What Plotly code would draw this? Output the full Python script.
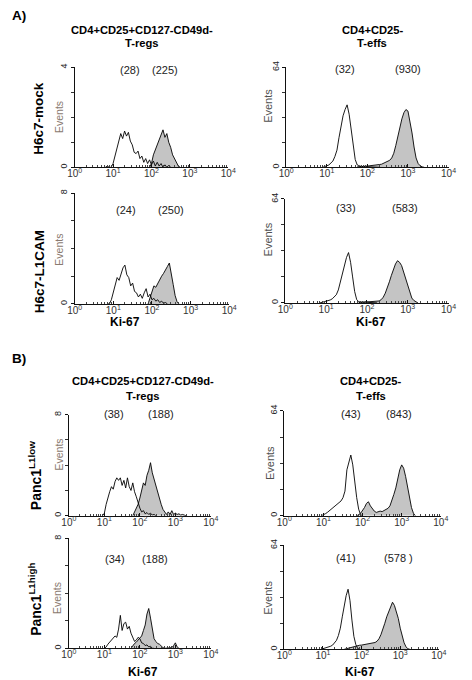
import numpy as np
import plotly.graph_objects as go

W, H = 472, 680
STEP = 0.05  # histogram bin width, log10(Ki-67) units

# ---------------- DATA (counts per log10 bin) ----------------
# Panel A, H6c7-mock, T-regs (y max 4)
a1_open_start = 0.80
a1_open = [0, 0.05, 0, 0, 0.15, 0.45, 0.8, 1.1, 1.35, 1.15, 1.45, 1.25, 1.4, 1.05, 0.9,
           0.6, 0.55, 0.65, 0.35, 0.45, 0.2, 0.35, 0.15, 0.3, 0.1, 0.25, 0.05, 0.2, 0.05,
           0.15, 0, 0.1, 0, 0.08, 0]
a1_fill_start = 1.95
a1_fill = [0, 0.15, 0.5, 0.7, 0.9, 1.1, 1.3, 1.5, 1.2, 1.35, 1.0, 0.8, 0.5, 0.35, 0.15, 0.05, 0]

# Panel A, H6c7-mock, T-effs (y max 64)
a2_open_start = 0.90
a2_open = [0, 0.3, 1, 1.5, 2.5, 4, 7, 11, 19, 27, 33, 37, 40, 34, 24, 12, 5, 1.5, 0.8, 0.5,
           0.5, 0.4, 0.3, 0.3, 0.2, 0.2, 0.1, 0.1, 0]
a2_fill_start = 1.75
a2_fill = [0.3, 0.5, 0.5, 0.6, 0.7, 0.8, 0.9, 1.0, 1.1, 1.3, 1.5, 1.8, 2.0, 2.5, 3, 3.5, 4.5,
           6, 9, 14, 20, 26, 31, 35, 37, 36, 30, 22, 13, 6, 2.5, 1, 0.3, 0]

# Panel A, H6c7-L1CAM, T-regs (y max 8)
a3_open_start = 0.85
a3_open = [0, 0, 0.3, 0.9, 1.5, 1.9, 1.7, 2.2, 2.6, 2.8, 2.1, 1.9, 1.3, 1.5, 0.9, 0.8, 0.5,
           0.7, 0.4, 0.8, 1.1, 0.5, 0.7, 0.3, 0.4, 0.2, 0.3, 0.1, 0.2, 0.05, 0.1, 0]
a3_fill_start = 1.90
a3_fill = [0, 0.5, 1.0, 1.3, 1.2, 1.5, 1.7, 2.0, 2.2, 2.5, 2.7, 2.95, 2.3, 1.4, 0.6, 0.15, 0]

# Panel A, H6c7-L1CAM, T-effs (y max 64)
a4_open_start = 0.85
a4_open = [0, 0.3, 0.5, 0.8, 1.2, 1.8, 2.5, 3.5, 5, 8, 13, 19, 24, 28, 31, 25, 16, 7, 2, 0.8,
           0.5, 0.6, 0.4, 0.5, 0.3, 0.3, 0.2, 0.1, 0]
a4_fill_start = 1.80
a4_fill = [0.2, 0.3, 0.3, 0.4, 0.4, 0.4, 0.5, 0.5, 0.6, 0.8, 1.2, 2, 3.5, 6, 9, 13, 17, 21, 24,
           26, 25, 23, 19, 14, 10, 6, 3, 1.5, 0.5, 0]

# Panel B, Panc1 L1low, T-regs (y max 8)
b1_open_start = 0.95
b1_open = [0, 0.2, 0.9, 1.5, 1.9, 2.3, 2.1, 2.7, 3.0, 2.8, 3.0, 2.4, 2.8, 2.2, 3.0, 2.3, 2.0,
           2.6, 1.9, 1.5, 1.0, 0.6, 0.3, 0.4, 0.15, 0.25, 0.1, 0.2, 0.05, 0.1, 0]
b1_fill_start = 1.80
b1_fill = [0, 0.3, 0.5, 0.9, 1.4, 2.0, 2.6, 2.4, 3.2, 3.6, 4.2, 3.4, 2.9, 2.2, 1.9, 1.2, 0.9,
           0.5, 0.3, 0.1, 0.3, 0.1, 0.4, 0.1, 0.2, 0.1, 0.15, 0.05, 0.1, 0.05, 0]

# Panel B, Panc1 L1low, T-effs (y max 64)
b2_open_start = 0.95
b2_open = [0, 0.5, 1.2, 2, 3, 4, 5, 6, 7, 8, 9, 11, 15, 28, 33, 37, 31, 20, 11, 4, 0.5, 0]
b2_fill_start = 1.85
b2_fill = [0, 0.5, 1.5, 3, 5, 7.5, 8.5, 6, 4, 2.8, 2, 2.3, 2.8, 2.5, 3.2, 3.5, 4.5, 6, 9, 13,
           17, 23, 28, 31, 29, 24, 17, 10, 5, 1.5, 0]

# Panel B, Panc1 L1high, T-regs (y max 8)
b3_open_start = 1.00
b3_open = [0, 0.1, 0.3, 0.45, 0.6, 0.7, 0.9, 0.8, 1.4, 2.4, 1.3, 1.8, 1.9, 1.4, 1.6, 1.1, 0.8,
           0.5, 0.6, 0.8, 0.7, 0.4, 0.35, 0.2, 0.25, 0.1, 0.15, 0, 0]
b3_fill_start = 1.75
b3_fill = [0, 0.2, 0.35, 0.45, 0.6, 0.8, 0.9, 1.3, 1.7, 2.5, 2.9, 2.2, 1.3, 0.7, 0.5, 0.35,
           0.3, 0.15, 0.05, 0, 0, 0, 0, 0.05, 0.2, 0.4, 0.1, 0]

# Panel B, Panc1 L1high, T-effs (y max 64)
b4_open_start = 0.95
b4_open = [0, 0.3, 0.7, 1.0, 1.4, 1.9, 2.6, 3.8, 5.5, 8.5, 13, 20, 27, 33, 37, 30, 18, 8, 3,
           0.5, 0]
b4_fill_start = 1.55
b4_fill = [0, 0.3, 0.8, 1.2, 1.6, 1.9, 2.1, 2.3, 2.5, 2.6, 2.8, 3.0, 3.2, 3.4, 3.6, 3.8, 4.2,
           5, 6.5, 9, 12, 16, 20, 23, 26, 29, 27, 23, 19, 13, 8, 4, 1.5, 0.3, 0]

# Mean fluorescence labels (open, filled)
a1_mfi = ["(28)", "(225)"]
a2_mfi = ["(32)", "(930)"]
a3_mfi = ["(24)", "(250)"]
a4_mfi = ["(33)", "(583)"]
b1_mfi = ["(38)", "(188)"]
b2_mfi = ["(43)", "(843)"]
b3_mfi = ["(34)", "(188)"]
b4_mfi = ["(41)", "(578 )"]

y_max_tregs_a = [4, 8]
y_max_tregs_b = [8, 8]
y_max_teffs = 64

x_tick_vals = [0, 1, 2, 3, 4]
x_tick_text = ["10<sup>%d</sup>" % k for k in x_tick_vals]

# ---------------- LAYOUT ----------------
FONT = "Liberation Sans, Arial, sans-serif"


def px(x):
    return x / W


def py(y):
    return 1 - y / H


# (open_start, open, fill_start, fill, ymax, x0, x1, ytop, ybot, mfi, mfi_x, mfi_y, kind, events_xy)
panels = [
    (a1_open_start, a1_open, a1_fill_start, a1_fill, y_max_tregs_a[0], 69, 228, 62, 163,
     a1_mfi, (126, 163), 65, "treg", (53, 112)),
    (a2_open_start, a2_open, a2_fill_start, a2_fill, y_max_teffs, 288, 456, 62, 163,
     a2_mfi, (349, 414), 64, "teff", (269, 101)),
    (a3_open_start, a3_open, a3_fill_start, a3_fill, y_max_tregs_a[1], 69, 229, 189, 301,
     a3_mfi, (122, 169), 206, "treg", (53, 246)),
    (a4_open_start, a4_open, a4_fill_start, a4_fill, y_max_teffs, 287, 456, 195, 300,
     a4_mfi, (350, 411), 204, "teff", (269, 236)),
    (b1_open_start, b1_open, b1_fill_start, b1_fill, y_max_tregs_b[0], 63, 210, 413, 515,
     b1_mfi, (110, 158), 412, "treg", (53, 453)),
    (b2_open_start, b2_open, b2_fill_start, b2_fill, y_max_teffs, 286, 448, 409, 515,
     b2_mfi, (355, 405), 412, "teff", (271, 462)),
    (b3_open_start, b3_open, b3_fill_start, b3_fill, y_max_tregs_b[1], 63, 210, 538, 649,
     b3_mfi, (111, 152), 559, "treg", (51, 598)),
    (b4_open_start, b4_open, b4_fill_start, b4_fill, y_max_teffs, 286, 446, 545, 650,
     b4_mfi, (350, 404), 558, "teff", (269, 598)),
]

fig = go.Figure()
annotations = []
minor_x = [k + np.log10(m) for k in range(4) for m in range(2, 10)]

for i, (os_, ov, fs, fv, ymax, x0, x1, yt, yb, mfi, mx, my, kind, ev) in enumerate(panels):
    n = i + 1
    xa = "x" if n == 1 else "x%d" % n
    ya = "y" if n == 1 else "y%d" % n
    fx = [fs + STEP * j for j in range(len(fv))]
    ox = [os_ + STEP * j for j in range(len(ov))]
    fig.add_trace(go.Scatter(x=fx, y=fv, xaxis=xa, yaxis=ya, mode="lines",
                             line=dict(color="black", width=0.9), fill="tozeroy",
                             fillcolor="#c4c4c4", showlegend=False, hoverinfo="skip"))
    fig.add_trace(go.Scatter(x=ox, y=ov, xaxis=xa, yaxis=ya, mode="lines",
                             line=dict(color="black", width=0.9),
                             showlegend=False, hoverinfo="skip"))
    xkey = "xaxis" if n == 1 else "xaxis%d" % n
    ykey = "yaxis" if n == 1 else "yaxis%d" % n
    fig.layout[xkey] = dict(
        domain=[px(x0), px(x1)], anchor=ya, range=[0, 4], showgrid=False, zeroline=False,
        showline=True, linecolor="#111", linewidth=1, ticks="inside", ticklen=3,
        tickcolor="#111", tickvals=x_tick_vals, ticktext=x_tick_text,
        tickfont=dict(family=FONT, size=10, color="#333"), ticklabelstandoff=-3,
        minor=dict(tickvals=minor_x, ticks="inside", ticklen=2, tickcolor="#444",
                   showgrid=False),
        fixedrange=True)
    q = ymax / 4
    fig.layout[ykey] = dict(
        domain=[py(yb), py(yt)], anchor=xa, range=[0, ymax], showgrid=False, zeroline=False,
        showline=True, linecolor="#111", linewidth=1, ticks="outside", ticklen=3,
        tickcolor="#111", tickvals=[0, ymax], ticktext=["0", str(ymax)], tickangle=-90,
        tickfont=dict(family=FONT, size=9, color="#222"),
        minor=dict(tickvals=[q, 2 * q, 3 * q], ticks="outside", ticklen=3, tickcolor="#333",
                   showgrid=False),
        fixedrange=True)
    for txt, xx in zip(mfi, mx):
        annotations.append(dict(text=txt, x=px(xx), y=py(my), xref="paper", yref="paper",
                                showarrow=False, xanchor="center", yanchor="middle",
                                font=dict(family=FONT, size=11, color="#222")))
    if kind == "treg":
        efont = dict(family=FONT, size=10.5, color="#8a7a70")
    else:
        efont = dict(family=FONT, size=11, color="#505050")
    annotations.append(dict(text="Events", x=px(ev[0]), y=py(ev[1]), xref="paper",
                            yref="paper", showarrow=False, textangle=-90,
                            xanchor="center", yanchor="middle", font=efont))


def label(text, x, y, size, bold=True, angle=0, color="black"):
    t = "<b>%s</b>" % text if bold else text
    annotations.append(dict(text=t, x=px(x), y=py(y), xref="paper", yref="paper",
                            showarrow=False, textangle=angle, xanchor="center",
                            yanchor="middle", font=dict(family=FONT, size=size, color=color)))


# Section letters
label("A)", 11, 10, 13.5)
label("B)", 11, 356, 13.5)
# Column titles
label("CD4+CD25+CD127-CD49d-", 139, 24, 11.2)
label("T-regs", 139, 37, 11.2)
label("CD4+CD25-", 378, 24, 11.2)
label("T-effs", 377, 37, 11.2)
label("CD4+CD25+CD127-CD49d-", 140, 379, 11.2)
label("T-regs", 140, 394, 11.2)
label("CD4+CD25-", 376, 379, 11.2)
label("T-effs", 376, 394, 11.2)
# Row labels
label("H6c7-mock", 32, 113, 13.5, angle=-90)
label("H6c7-L1CAM", 32, 268, 13.5, angle=-90)
label("Panc1<sup>L1low</sup>", 28, 475, 14, angle=-90)
label("Panc1<sup>L1high</sup>", 28, 600, 14, angle=-90)
# X titles
label("Ki-67", 121, 319, 12)
label("Ki-67", 376, 319, 12)
label("Ki-67", 140, 673, 12)
label("Ki-67", 364, 673, 12)

fig.update_layout(width=W, height=H, margin=dict(l=0, r=0, t=0, b=0),
                  paper_bgcolor="white", plot_bgcolor="white",
                  annotations=annotations, showlegend=False)

fig.write_html("out.html", config={"displayModeBar": False, "staticPlot": True},
               post_script="document.body.style.margin='0';document.body.style.overflow='hidden';")
